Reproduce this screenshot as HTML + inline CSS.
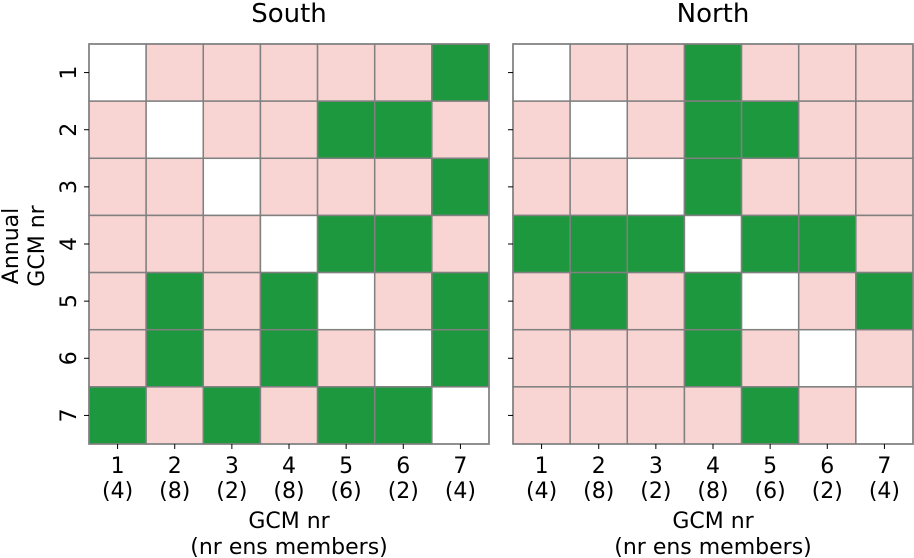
<!DOCTYPE html>
<html><head><meta charset="utf-8"><style>
body{margin:0;background:#fff}
svg{display:block;font-family:"DejaVu Sans","Liberation Sans",sans-serif}
</style></head><body>
<svg id="c" width="914" height="558"></svg>
<script>
const gcmLabels = ["1","2","3","4","5","6","7"];
const ensMembers = ["(4)","(8)","(2)","(8)","(6)","(2)","(4)"];
const panelTitles = ["South","North"];
// 1 = green (significant), 0 = pink, -1 = diagonal (white)
const southMatrix = [
 [-1,0,0,0,0,0,1],
 [0,-1,0,0,1,1,0],
 [0,0,-1,0,0,0,1],
 [0,0,0,-1,1,1,0],
 [0,1,0,1,-1,0,1],
 [0,1,0,1,0,-1,1],
 [1,0,1,0,1,1,-1]
];
const northMatrix = [
 [-1,0,0,1,0,0,0],
 [0,-1,0,1,1,0,0],
 [0,0,-1,1,0,0,0],
 [1,1,1,-1,1,1,0],
 [0,1,0,1,-1,0,1],
 [0,0,0,1,0,-1,0],
 [0,0,0,0,1,0,-1]
];
const NS="http://www.w3.org/2000/svg";
const svg=document.getElementById('c');
function mk(tag,attrs,parent){const e=document.createElementNS(NS,tag);for(const k in attrs)e.setAttribute(k,attrs[k]);(parent||svg).appendChild(e);return e;}
const colors={"-1":"#ffffff","0":"#f8d5d3","1":"#1e983e"};
const panels=[{x0:89,m:southMatrix,labels:true},{x0:513,m:northMatrix,labels:false}];
const y0=44, W=400, n=gcmLabels.length, cs=W/n;
const xs=(i,x0)=>x0+i*cs, ys=i=>y0+i*cs;
panels.forEach((p,pi)=>{
  const g=mk('g',{});
  
  
  p.m.forEach((row,r)=>row.forEach((v,c)=>{
    const rc=mk('rect',{x:xs(c,p.x0),y:ys(r),width:cs,height:cs,fill:colors[v],stroke:'#808080','stroke-width':1.5},g);
    
    
  }));
  mk('rect',{x:p.x0,y:y0,width:W,height:W,fill:'none',stroke:'#808080','stroke-width':1.5},g);
  const t=mk('text',{x:p.x0+W/2,y:22,'text-anchor':'middle','font-size':26},g);t.textContent=panelTitles[pi];
  
  gcmLabels.forEach((l,i)=>{
    const cx=xs(i,p.x0)+cs/2, cy=ys(i)+cs/2;
    mk('line',{x1:cx,x2:cx,y1:y0+W,y2:y0+W+5,stroke:'#000'},g);
    mk('line',{x1:p.x0-5,x2:p.x0,y1:cy,y2:cy,stroke:'#000'},g);
    const a=mk('text',{x:cx,y:473,'text-anchor':'middle','font-size':22},g);a.textContent=l;
    
    const b=mk('text',{x:cx,y:498,'text-anchor':'middle','font-size':22},g);b.textContent=ensMembers[i];
    
    if(p.labels){
      const yl=mk('text',{x:76,y:cy,'text-anchor':'middle','font-size':22,transform:`rotate(-90 76 ${cy})`},g);yl.textContent=l;
      
    }
  });
  const x1=mk('text',{x:p.x0+W/2,y:528,'text-anchor':'middle','font-size':22},g);x1.textContent='GCM nr';
  
  const x2=mk('text',{x:p.x0+W/2,y:554,'text-anchor':'middle','font-size':22},g);x2.textContent='(nr ens members)';
  
});
const ya=mk('text',{x:18,y:246,'text-anchor':'middle','font-size':22,transform:'rotate(-90 18 246)'});ya.textContent='Annual';

const yb=mk('text',{x:44,y:246,'text-anchor':'middle','font-size':22,transform:'rotate(-90 44 246)'});yb.textContent='GCM nr';

</script>
</body></html>
